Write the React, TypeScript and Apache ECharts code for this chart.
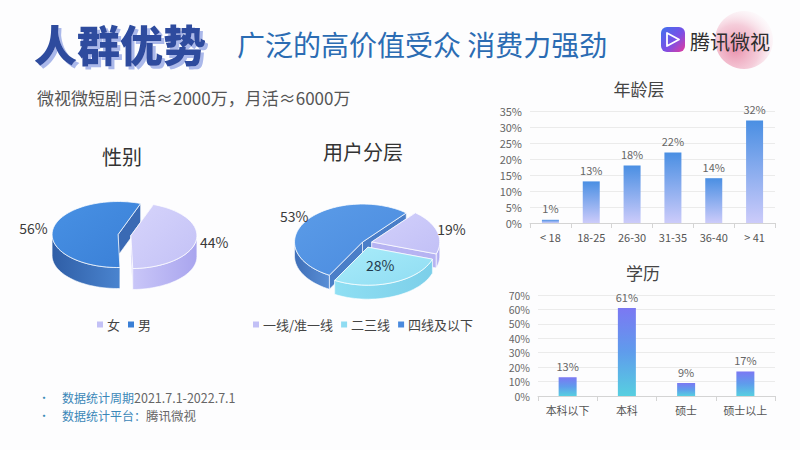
import React, { useEffect, useRef } from 'react';
import * as echarts from 'echarts';

// ---------- data ----------
const genderNames = ['女', '男'];
const genderValues = [44, 56];
const tierNames = ['一线/准一线', '二三线', '四线及以下'];
const tierValues = [19, 28, 53];
const ageCategories = ['< 18', '18-25', '26-30', '31-35', '36-40', '> 41'];
const ageValues = [1, 13, 18, 22, 14, 32];
const eduCategories = ['本科以下', '本科', '硕士', '硕士以上'];
const eduValues = [13, 61, 9, 17];

const FONT = '"Noto Sans CJK SC", "Noto Sans", sans-serif';

type PieCfg = {
  cx: number; cy: number; rx: number; ry: number; depth: number; start: number;
  explode: number[]; labelR: number[]; labelColor: string[];
  top: string[][]; side: string[][]; cut: string[];
};

const genderPie: PieCfg = {
  cx: 124, cy: 235, rx: 66, ry: 33, depth: 21, start: 70,
  explode: [7, 6], labelR: [1.28, 1.3], labelColor: ['#3a3a3a', '#3a3a3a'],
  top: [['#d6d4fb', '#c3c1f6'], ['#4891e4', '#3a7fd6']],
  side: [['#c9c6f8', '#a9a5ee'], ['#2f5ea6', '#4a84cf']],
  cut: ['#b9b6f3', '#3a6ab4'],
};

const tierPie: PieCfg = {
  cx: 365, cy: 243, rx: 68, ry: 38, depth: 14, start: 50,
  explode: [7, 8, 3], labelR: [1.22, 0.5, 1.22], labelColor: ['#3a3a3a', '#1f3a4d', '#3a3a3a'],
  top: [['#d2d0fb', '#c2c0f6'], ['#a9ecfa', '#8fdcf2'], ['#5b9ce8', '#4a8ade']],
  side: [['#c3c0f6', '#a8a4ee'], ['#8fdff3', '#7ccfe9'], ['#3f6fb8', '#5a8fd6']],
  cut: ['#b6b3f2', '#86d5ee', '#4a7ec8'],
};

function makeRender(cfg: PieCfg, values: number[], idx: number) {
  return () => {
    const total = values.reduce((a, b) => a + b, 0);
    let a0 = cfg.start;
    for (let k = 0; k < idx; k++) a0 -= (values[k] / total) * 360;
    const a1 = a0 - (values[idx] / total) * 360;
    const rad = (d: number) => (d * Math.PI) / 180;
    const mid = rad((a0 + a1) / 2);
    const e = cfg.explode[idx];
    const ox = e * Math.cos(mid);
    const oy = (-e * Math.sin(mid) * cfg.ry) / cfg.rx;
    const D = cfg.depth;
    const P = (deg: number, dz: number) => [
      cfg.cx + ox + cfg.rx * Math.cos(rad(deg)),
      cfg.cy + oy - cfg.ry * Math.sin(rad(deg)) + dz,
    ];
    const C = (dz: number) => [cfg.cx + ox, cfg.cy + oy + dz];
    const arc = (from: number, to: number, dz: number) => {
      const n = Math.max(2, Math.ceil(Math.abs(to - from) / 3));
      const pts: number[][] = [];
      for (let i = 0; i <= n; i++) pts.push(P(from + ((to - from) * i) / n, dz));
      return pts;
    };
    const edge = 'rgba(255,255,255,0.75)';
    const children: any[] = [];
    const zSide = 4 - Math.sin(mid) * 2;
    [a0, a1].forEach((a) => {
      children.push({
        type: 'polygon',
        z2: zSide,
        shape: { points: [C(0), P(a, 0), P(a, D), C(D)] },
        style: { fill: cfg.cut[idx], stroke: edge, lineWidth: 0.8 },
      });
    });
    for (let k = -1; k <= 1; k++) {
      const lo = Math.max(a1, -180 + 360 * k);
      const hi = Math.min(a0, 0 + 360 * k);
      if (hi > lo) {
        const pts = arc(hi, lo, 0).concat(arc(lo, hi, D));
        children.push({
          type: 'polygon',
          z2: zSide + 0.5,
          shape: { points: pts },
          style: {
            fill: new echarts.graphic.LinearGradient(0, 0, 1, 0, [
              { offset: 0, color: cfg.side[idx][0] },
              { offset: 1, color: cfg.side[idx][1] },
            ]),
            stroke: edge,
            lineWidth: 0.8,
          },
        });
      }
    }
    children.push({
      type: 'polygon',
      z2: 10,
      shape: { points: [C(0)].concat(arc(a0, a1, 0)) },
      style: {
        fill: new echarts.graphic.LinearGradient(0, 0, 1, 1, [
          { offset: 0, color: cfg.top[idx][0] },
          { offset: 1, color: cfg.top[idx][1] },
        ]),
        stroke: edge,
        lineWidth: 1,
      },
    });
    const lr = cfg.labelR[idx];
    children.push({
      type: 'text',
      z2: 20,
      style: {
        text: values[idx] + '%',
        x: cfg.cx + ox + cfg.rx * lr * Math.cos(mid),
        y: cfg.cy + oy - cfg.ry * lr * Math.sin(mid),
        align: 'center',
        verticalAlign: 'middle',
        fill: cfg.labelColor[idx],
        fontSize: 14,
        fontFamily: FONT,
      },
    });
    return { type: 'group', children };
  };
}

function pieSeries(cfg: PieCfg, names: string[], values: number[]) {
  return names.map((name, i) => ({
    type: 'custom',
    name,
    coordinateSystem: 'none',
    data: [values[i]],
    itemStyle: { color: cfg.top[i][1] },
    renderItem: makeRender(cfg, values, i),
    silent: true,
  }));
}

function buildOption(): any {
  const barLabel = { show: true, position: 'top', formatter: '{c}%', color: '#666', fontSize: 11, fontFamily: FONT, distance: 6 };
  const xAxisBase = {
    type: 'category',
    axisLine: { lineStyle: { color: '#d4d4d4' } },
    axisTick: { show: true, lineStyle: { color: '#d4d4d4' } },
    axisLabel: { color: '#555', fontSize: 11, fontFamily: FONT, margin: 8 },
  };
  const yAxisBase = {
    type: 'value',
    min: 0,
    axisLine: { show: false },
    axisTick: { show: false },
    axisLabel: { formatter: '{value}%', color: '#666', fontSize: 11, fontFamily: FONT, margin: 8, lineHeight: 12 },
    splitLine: { lineStyle: { color: '#ebebeb' } },
  };
  const legendBase = {
    orient: 'horizontal',
    icon: 'rect',
    itemWidth: 6,
    itemHeight: 6,
    itemGap: 8,
    padding: 0,
    top: 318,
    textStyle: { fontSize: 13, color: '#444', fontFamily: FONT, padding: [0, 0, 0, -1] },
  };
  const footRich = {
    a: { fontSize: 12, lineHeight: 13, fill: '#3b87b8', fontFamily: FONT },
    b: { fontSize: 12.5, lineHeight: 13, fill: '#666', fontFamily: FONT },
  };
  return {
    animation: false,
    backgroundColor: '#fdfdfe',
    textStyle: { fontFamily: FONT },
    grid: [
      { left: 530, width: 245, top: 111, height: 112 },
      { left: 538, width: 237, top: 295, height: 101 },
    ],
    xAxis: [
      { ...xAxisBase, gridIndex: 0, data: ageCategories },
      { ...xAxisBase, gridIndex: 1, data: eduCategories },
    ],
    yAxis: [
      { ...yAxisBase, gridIndex: 0, max: 35, interval: 5 },
      { ...yAxisBase, gridIndex: 1, max: 70, interval: 10, axisLabel: { ...yAxisBase.axisLabel, fontSize: 10.5 } },
    ],
    legend: [
      { ...legendBase, left: 97, data: genderNames },
      { ...legendBase, left: 253, data: tierNames },
    ],
    series: [
      {
        type: 'bar',
        xAxisIndex: 0,
        yAxisIndex: 0,
        data: ageValues,
        barWidth: 17,
        itemStyle: {
          color: new echarts.graphic.LinearGradient(0, 0, 0, 1, [
            { offset: 0, color: '#4a8fe3' },
            { offset: 1, color: '#cccbfa' },
          ]),
        },
        label: barLabel,
      },
      {
        type: 'bar',
        xAxisIndex: 1,
        yAxisIndex: 1,
        data: eduValues,
        barWidth: 18,
        itemStyle: {
          color: new echarts.graphic.LinearGradient(0, 0, 0, 1, [
            { offset: 0, color: '#7b78f3' },
            { offset: 0.5, color: '#5f9cec' },
            { offset: 1, color: '#57cfe0' },
          ]),
        },
        label: barLabel,
      },
      ...pieSeries(genderPie, genderNames, genderValues),
      ...pieSeries(tierPie, tierNames, tierValues),
    ],
    graphic: [
      // pink glow behind logo
      {
        type: 'circle',
        z: -1,
        shape: { cx: 744, cy: 40, r: 29 },
        style: {
          fill: new echarts.graphic.RadialGradient(0.35, 0.65, 0.75, [
            { offset: 0, color: 'rgba(230,125,158,0.85)' },
            { offset: 0.55, color: 'rgba(238,165,188,0.55)' },
            { offset: 1, color: 'rgba(252,236,242,0.1)' },
          ]),
        },
      },
      {
        type: 'rect',
        shape: { x: 661, y: 27, width: 24, height: 25, r: 6 },
        style: {
          fill: new echarts.graphic.LinearGradient(0, 0, 1, 1, [
            { offset: 0, color: '#3f72ee' },
            { offset: 0.55, color: '#7a4fe6' },
            { offset: 1, color: '#e6399c' },
          ]),
        },
      },
      {
        type: 'polygon',
        shape: { points: [[667, 33], [679, 39.5], [667, 46]] },
        style: { fill: 'none', stroke: '#ffffff', lineWidth: 1.8, lineJoin: 'round' },
      },
      {
        type: 'text',
        style: { text: '腾讯微视', x: 690, y: 41, verticalAlign: 'middle', fontSize: 20, fill: '#2e2e2e', fontFamily: FONT },
      },
      // main title with offset shadow
      {
        type: 'text',
        style: {
          text: '人群优势', x: 34, y: 43, verticalAlign: 'middle', fontSize: 43, fontWeight: 900,
          fill: '#2d4c9e', fontFamily: FONT,
          textShadowColor: '#aab8ea', textShadowOffsetX: 3, textShadowOffsetY: 3, textShadowBlur: 0.5,
        },
      },
      {
        type: 'text',
        style: { text: '广泛的高价值受众 消费力强劲', x: 237, y: 44, verticalAlign: 'middle', fontSize: 28, fill: '#2b6cb3', fontFamily: FONT },
      },
      {
        type: 'text',
        style: { text: '微视微短剧日活≈2000万，月活≈6000万', x: 37, y: 97, verticalAlign: 'middle', fontSize: 17, fill: '#555', fontFamily: FONT },
      },
      // chart titles
      { type: 'text', style: { text: '性别', x: 122, y: 156, align: 'center', verticalAlign: 'middle', fontSize: 20, fill: '#333', fontFamily: FONT } },
      { type: 'text', style: { text: '用户分层', x: 363, y: 151, align: 'center', verticalAlign: 'middle', fontSize: 20, fill: '#333', fontFamily: FONT } },
      { type: 'text', style: { text: '年龄层', x: 639, y: 88, align: 'center', verticalAlign: 'middle', fontSize: 17, fill: '#444', fontFamily: FONT } },
      { type: 'text', style: { text: '学历', x: 643, y: 272, align: 'center', verticalAlign: 'middle', fontSize: 17, fill: '#444', fontFamily: FONT } },
      // footer
      { type: 'text', style: { text: '•', x: 44, y: 397, align: 'center', verticalAlign: 'middle', fontSize: 11, fill: '#3b8db8', fontFamily: FONT } },
      { type: 'text', style: { text: '•', x: 44, y: 415, align: 'center', verticalAlign: 'middle', fontSize: 11, fill: '#3b8db8', fontFamily: FONT } },
      {
        type: 'text',
        style: { text: '{a|数据统计周期}{b|2021.7.1-2022.7.1}', x: 62, y: 397, verticalAlign: 'middle', rich: footRich },
      },
      {
        type: 'text',
        style: { text: '{a|数据统计平台：}{b|腾讯微视}', x: 62, y: 415, verticalAlign: 'middle', rich: footRich },
      },
    ],
  };
}

export default function App() {
  const ref = useRef<HTMLDivElement>(null);
  useEffect(() => {
    if (!ref.current) return;
    const chart = echarts.init(ref.current, undefined, { renderer: 'svg' });
    chart.setOption(buildOption());
    return () => chart.dispose();
  }, []);
  return <div ref={ref} style={{ position: 'fixed', left: 0, top: 0, width: 800, height: 450 }} />;
}
